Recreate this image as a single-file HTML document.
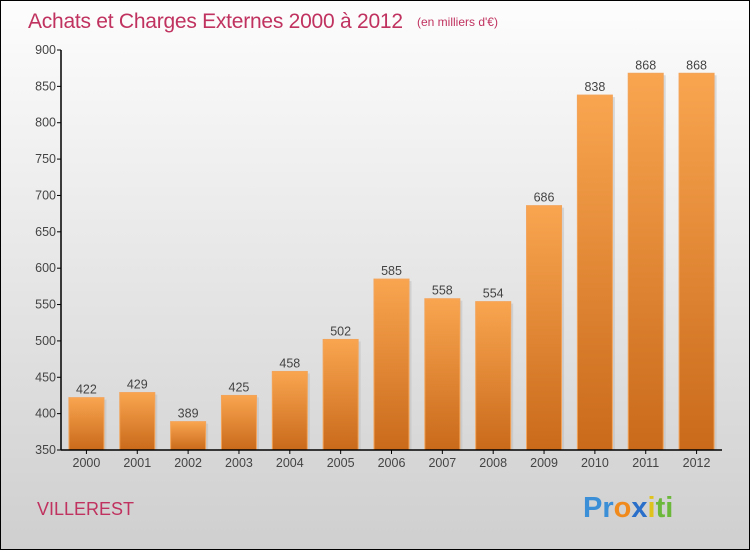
<!DOCTYPE html>
<html><head><meta charset="utf-8"><style>
body{margin:0;}
#c{position:relative;width:748px;height:548px;border:1px solid #000;background:linear-gradient(#fdfdfd,#cfcfcf);font-family:"Liberation Sans",sans-serif;overflow:hidden}
</style></head><body>
<div id="c">
<svg id="s" width="748" height="548" xmlns="http://www.w3.org/2000/svg">
<defs><linearGradient id="g" x1="0" y1="0" x2="0" y2="1"><stop offset="0" stop-color="#f9a550"/><stop offset="1" stop-color="#c96a1a"/></linearGradient></defs>
<text x="27" y="27" font-size="21" fill="#c0325f" textLength="375">Achats et Charges Externes 2000 à 2012</text>
<text x="416" y="25" font-size="12" fill="#c0325f">(en milliers d'€)</text>
<text x="36" y="514" font-size="18" fill="#c0325f">VILLEREST</text>
<text x="582" y="516" font-size="29" font-weight="bold"><tspan fill="#3a8fd6">Pr</tspan><tspan fill="#f08a1c">o</tspan><tspan fill="#2a6fc9">x</tspan><tspan fill="#e0c21c">i</tspan><tspan fill="#6bb83a">ti</tspan></text>
<g id="plot"></g>
</svg></div>
<script>
const categories=["2000","2001","2002","2003","2004","2005","2006","2007","2008","2009","2010","2011","2012"];
const values=[422,429,389,425,458,502,585,558,554,686,838,868,868];
const ticks=[350,400,450,500,550,600,650,700,750,800,850,900];
const NS="http://www.w3.org/2000/svg",p=document.getElementById('plot');
const x0=60,x1=721,yT=49,yB=449,vmin=350,vmax=900;
const y=v=>yB-(v-vmin)/(vmax-vmin)*(yB-yT);
const bw=(x1-x0)/categories.length;
function mk(t,a,par){const e=document.createElementNS(NS,t);for(const k in a)e.setAttribute(k,a[k]);(par||p).appendChild(e);return e;}
ticks.forEach(t=>{
 const l=mk('line',{x1:x0-4,x2:x0,y1:y(t),y2:y(t),stroke:'#000'});
 
 
 const tx=mk('text',{x:x0-5,y:y(t)+4,'font-size':12.5,fill:'#444','text-anchor':'end'});tx.textContent=t;
 
 
});
categories.forEach((c,i)=>{
 const cx=x0+bw*(i+0.5),v=values[i];
 const sh=mk('rect',{x:cx-17+2,y:y(v)+2,width:35,height:yB-y(v)-2,fill:'#bbb',opacity:0.5});
 
 
 const r=mk('rect',{x:cx-17.5,y:y(v),width:35,height:yB-y(v),fill:'url(#g)',stroke:'#f3a45a','stroke-width':1});
 
 
 const lb=mk('text',{x:cx,y:y(v)-4,'font-size':12.5,fill:'#444','text-anchor':'middle'});lb.textContent=v;
 
 
 const tk=mk('line',{x1:cx,x2:cx,y1:yB,y2:yB+4,stroke:'#000'});
 
 
 const xl=mk('text',{x:cx,y:yB+17,'font-size':12.5,fill:'#444','text-anchor':'middle'});xl.textContent=c;
 
 
});
const ya=mk('line',{x1:x0,x2:x0,y1:yT,y2:yB,stroke:'#000','stroke-width':1.5});


const xa=mk('line',{x1:x0,x2:x1,y1:yB,y2:yB,stroke:'#000','stroke-width':1.5});


</script>
</body></html>
